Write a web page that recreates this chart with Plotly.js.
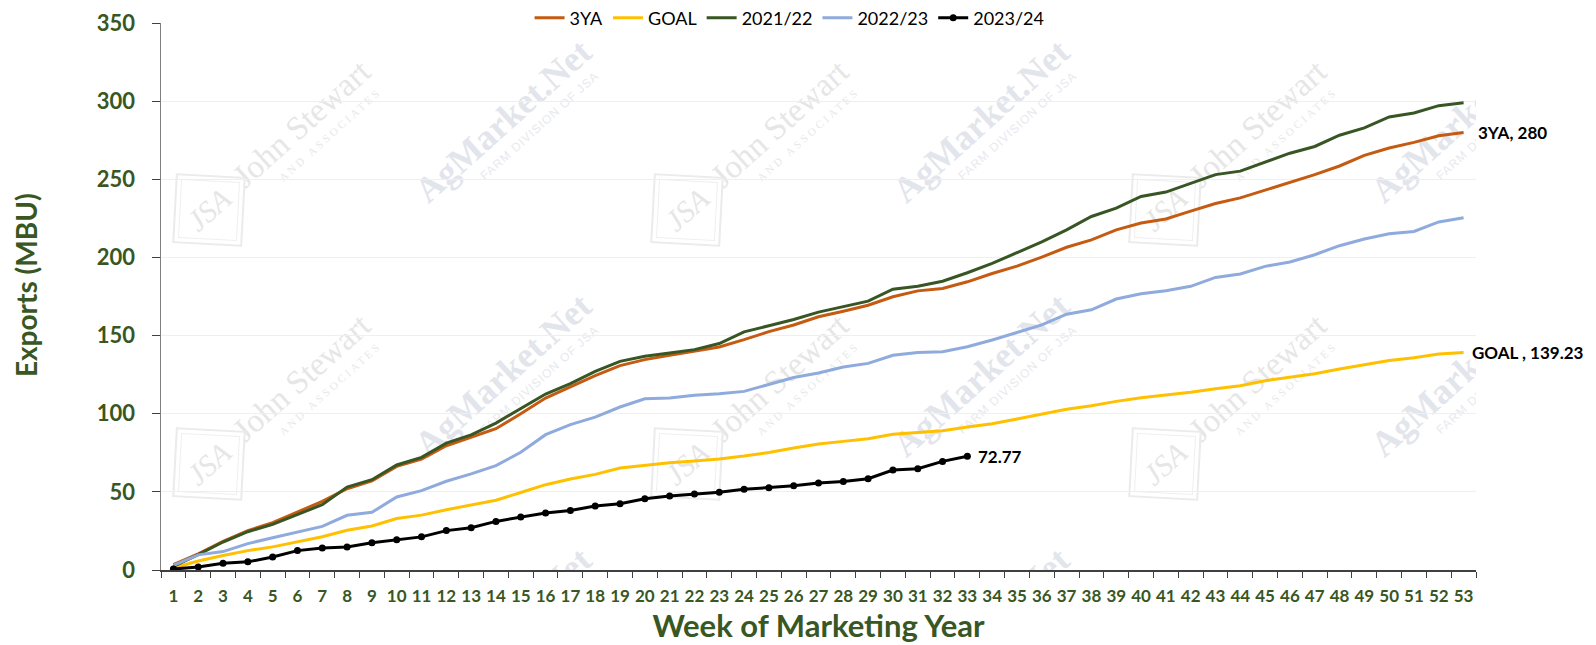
<!DOCTYPE html>
<html>
<head>
<meta charset="utf-8">
<script src="https://cdn.plot.ly/plotly-3.0.1.min.js"></script>
<style>html,body{margin:0;padding:0;background:#fff;}#chart{width:1596px;height:645px;}</style>
</head>
<body>
<div id="chart"></div>
<script>
const weeks = ['1','2','3','4','5','6','7','8','9','10','11','12','13','14','15','16','17','18','19','20','21','22','23','24','25','26','27','28','29','30','31','32','33','34','35','36','37','38','39','40','41','42','43','44','45','46','47','48','49','50','51','52','53'];

const threeYA = [3.4,10.4,18.3,25.2,30.3,37.1,43.9,52.0,57.1,66.3,71.0,79.5,84.9,90.4,100.0,110.0,117.1,124.4,130.8,134.6,137.4,140.0,142.7,147.4,152.5,156.8,162.0,165.6,169.4,174.8,178.6,180.1,184.4,189.7,194.4,200.2,206.5,211.2,217.6,222.0,224.6,229.6,234.5,238.1,243.0,248.2,253.0,258.5,265.3,270.0,273.6,277.9,280];

const goal = [1.3,5.8,9.3,12.4,14.8,18.2,21.3,25.4,28.2,32.9,35.1,38.6,41.6,44.6,49.6,54.6,58.2,61.2,65.3,66.9,68.6,69.7,71.0,72.9,75.2,78.0,80.6,82.3,84.0,86.8,88.1,89.1,91.5,93.6,96.6,99.6,102.8,105.1,107.9,110.2,112.0,113.7,116.0,117.9,121.1,123.2,125.6,128.6,131.4,134.1,135.8,138.2,139.23];

const y2122 = [2.3,9.8,17.9,24.5,29.2,35.4,41.8,53.1,57.8,67.2,72.1,81.2,86.4,94.0,103.5,112.6,119.2,127.1,133.5,136.8,138.9,141.0,144.9,152.4,156.3,160.3,165.0,168.4,172.0,179.7,181.6,184.8,190.2,196.2,203.0,209.9,217.6,226.2,231.5,239.0,241.8,247.2,253.0,255.2,260.9,266.7,271.0,278.2,282.9,289.9,292.4,297.1,299.0];

const y2223 = [3.0,9.7,11.8,16.9,20.6,24.4,27.9,35.0,36.9,46.7,50.8,56.8,61.5,66.8,75.3,86.6,93.0,97.8,104.3,109.6,110.0,111.8,112.8,114.3,118.6,123.2,126.0,129.9,132.2,137.4,139.1,139.6,142.9,147.2,152.0,156.8,163.7,166.5,173.4,176.8,178.7,181.5,187.2,189.4,194.3,197.1,201.7,207.5,211.8,215.2,216.6,222.7,225.4];

const y2324 = [0.6,1.9,4.3,5.2,8.3,12.4,14.1,14.7,17.5,19.3,21.2,25.2,27.0,31.1,33.9,36.5,38.1,40.9,42.4,45.6,47.3,48.6,49.7,51.6,52.7,53.9,55.6,56.7,58.4,64.0,64.8,69.5,72.77];

const yTicks = [0,50,100,150,200,250,300,350];

const GREEN_TXT = '#385723';
const FONT = 'Lato, "Noto Sans", sans-serif';

// ---- faint watermark, tiled over the plot area (decorative) ----
const PW = 1315, PH = 547;
function watermarkSVG() {
  let s = '<svg xmlns="http://www.w3.org/2000/svg" width="' + PW + '" height="' + PH + '" viewBox="0 0 ' + PW + ' ' + PH + '">';
  for (let i = 0; i < 3; i++) {
    for (let j = 0; j < 3; j++) {
      const jx = 148 + i * 478, jy = 109 + j * 254;
      s += '<g transform="translate(' + jx + ',' + jy + ') rotate(-42)">' +
           '<text x="0" y="0" text-anchor="middle" font-family="Liberation Serif, DejaVu Serif, serif" font-size="33" fill="#E6E6E6">John Stewart</text>' +
           '<text x="14" y="20" text-anchor="middle" font-family="Liberation Serif, DejaVu Serif, serif" font-size="11" letter-spacing="3" fill="#E8E8E8">AND ASSOCIATES</text>' +
           '</g>';
      s += '<g transform="translate(' + (jx - 100) + ',' + (jy + 78) + ') rotate(-42)">' +
           '<rect x="-34" y="-34" width="68" height="68" fill="none" stroke="#EBEBEB" stroke-width="2" transform="rotate(45)"/>' +
           '<rect x="-29" y="-29" width="58" height="58" fill="none" stroke="#EFEFEF" stroke-width="1" transform="rotate(45)"/>' +
           '<text x="0" y="10" text-anchor="middle" font-family="Liberation Serif, DejaVu Serif, serif" font-style="italic" font-size="30" fill="#E6E6E6">JSA</text>' +
           '</g>';
      const ax = 350 + i * 478, ay = 107 + j * 254;
      s += '<g transform="translate(' + ax + ',' + ay + ') rotate(-42)">' +
           '<text x="0" y="0" text-anchor="middle" font-family="Liberation Serif, DejaVu Serif, serif" font-weight="bold" font-size="36" fill="#E3E5EC">AgMarket.Net</text>' +
           '<text x="24" y="20" text-anchor="middle" font-family="Liberation Sans, DejaVu Sans, sans-serif" font-size="12" letter-spacing="1" fill="#E8E9EE">FARM DIVISION OF JSA</text>' +
           '</g>';
    }
  }
  s += '</svg>';
  return 'data:image/svg+xml;charset=utf-8,' + encodeURIComponent(s);
}

const traces = [
  {name:'3YA', x:weeks, y:threeYA, type:'scatter', mode:'lines', line:{color:'#C55A11', width:3}},
  {name:'GOAL', x:weeks, y:goal, type:'scatter', mode:'lines', line:{color:'#FFC000', width:3}},
  {name:'2021/22', x:weeks, y:y2122, type:'scatter', mode:'lines', line:{color:'#375623', width:3}},
  {name:'2022/23', x:weeks, y:y2223, type:'scatter', mode:'lines', line:{color:'#8FAADC', width:3}},
  {name:'2023/24', x:weeks.slice(0, y2324.length), y:y2324, type:'scatter', mode:'lines+markers',
   line:{color:'#000000', width:3}, marker:{color:'#000000', size:7, symbol:'circle'}}
];

const lastIdx = weeks.length - 1;
const curIdx = y2324.length - 1;
const annotations = [
  {x:lastIdx, y:threeYA[lastIdx], xref:'x', yref:'y', text:'<b>3YA, ' + threeYA[lastIdx] + '</b>',
   showarrow:false, xanchor:'left', yanchor:'middle', xshift:12, font:{family:FONT, size:17, color:'#000'}},
  {x:lastIdx, y:goal[lastIdx], xref:'x', yref:'y', text:'<b>GOAL , ' + goal[lastIdx] + '</b>',
   showarrow:false, xanchor:'left', yanchor:'middle', xshift:6, font:{family:FONT, size:17, color:'#000'}},
  {x:curIdx, y:y2324[curIdx], xref:'x', yref:'y', text:'<b>' + y2324[curIdx] + '</b>',
   showarrow:false, xanchor:'left', yanchor:'middle', xshift:9, font:{family:FONT, size:17, color:'#000'}},
  {xref:'paper', yref:'paper', x:-0.103, y:0.52, xanchor:'center', yanchor:'middle', textangle:-90,
   text:'<b>Exports (MBU)</b>', showarrow:false, font:{family:FONT, size:28, color:GREEN_TXT}}
];

const layout = {
  width:1596, height:645,
  margin:{l:161, r:120, t:23, b:75, pad:0, autoexpand:false},
  paper_bgcolor:'#ffffff', plot_bgcolor:'rgba(0,0,0,0)',
  font:{family:FONT, color:GREEN_TXT},
  showlegend:true,
  legend:{orientation:'h', x:0.478, xanchor:'center', y:1.009, yanchor:'middle', itemwidth:30,
          bgcolor:'rgba(0,0,0,0)', font:{family:FONT, size:18, color:'#000'}, traceorder:'normal'},
  xaxis:{type:'category', range:[-0.5, 52.5], tickson:'boundaries', ticks:'outside', ticklen:6, tickcolor:'#404040',
         tickangle:0, ticklabelstandoff:10,
         showline:true, linecolor:'#404040', linewidth:1.5, showgrid:false, zeroline:false,
         tickfont:{family:FONT, size:17, color:GREEN_TXT, weight:700},
         title:{text:'<b>Week of Marketing Year</b>', font:{family:FONT, size:31, color:GREEN_TXT}, standoff:6}},
  yaxis:{range:[0,350], tickvals:yTicks, ticks:'outside', ticklen:8, tickcolor:'#404040', ticklabelstandoff:12,
         showline:true, linecolor:'#7F7F7F', linewidth:1.5, showgrid:true, gridcolor:'#EFEFEF', gridwidth:1, zeroline:false,
         tickfont:{family:FONT, size:22, color:GREEN_TXT, weight:700}},
  images:[{source:watermarkSVG(), xref:'paper', yref:'paper', x:0, y:1, sizex:1, sizey:1,
           xanchor:'left', yanchor:'top', sizing:'stretch', layer:'below'}],
  annotations:annotations
};

Plotly.newPlot('chart', traces, layout, {staticPlot:true, displayModeBar:false});
</script>
</body>
</html>
